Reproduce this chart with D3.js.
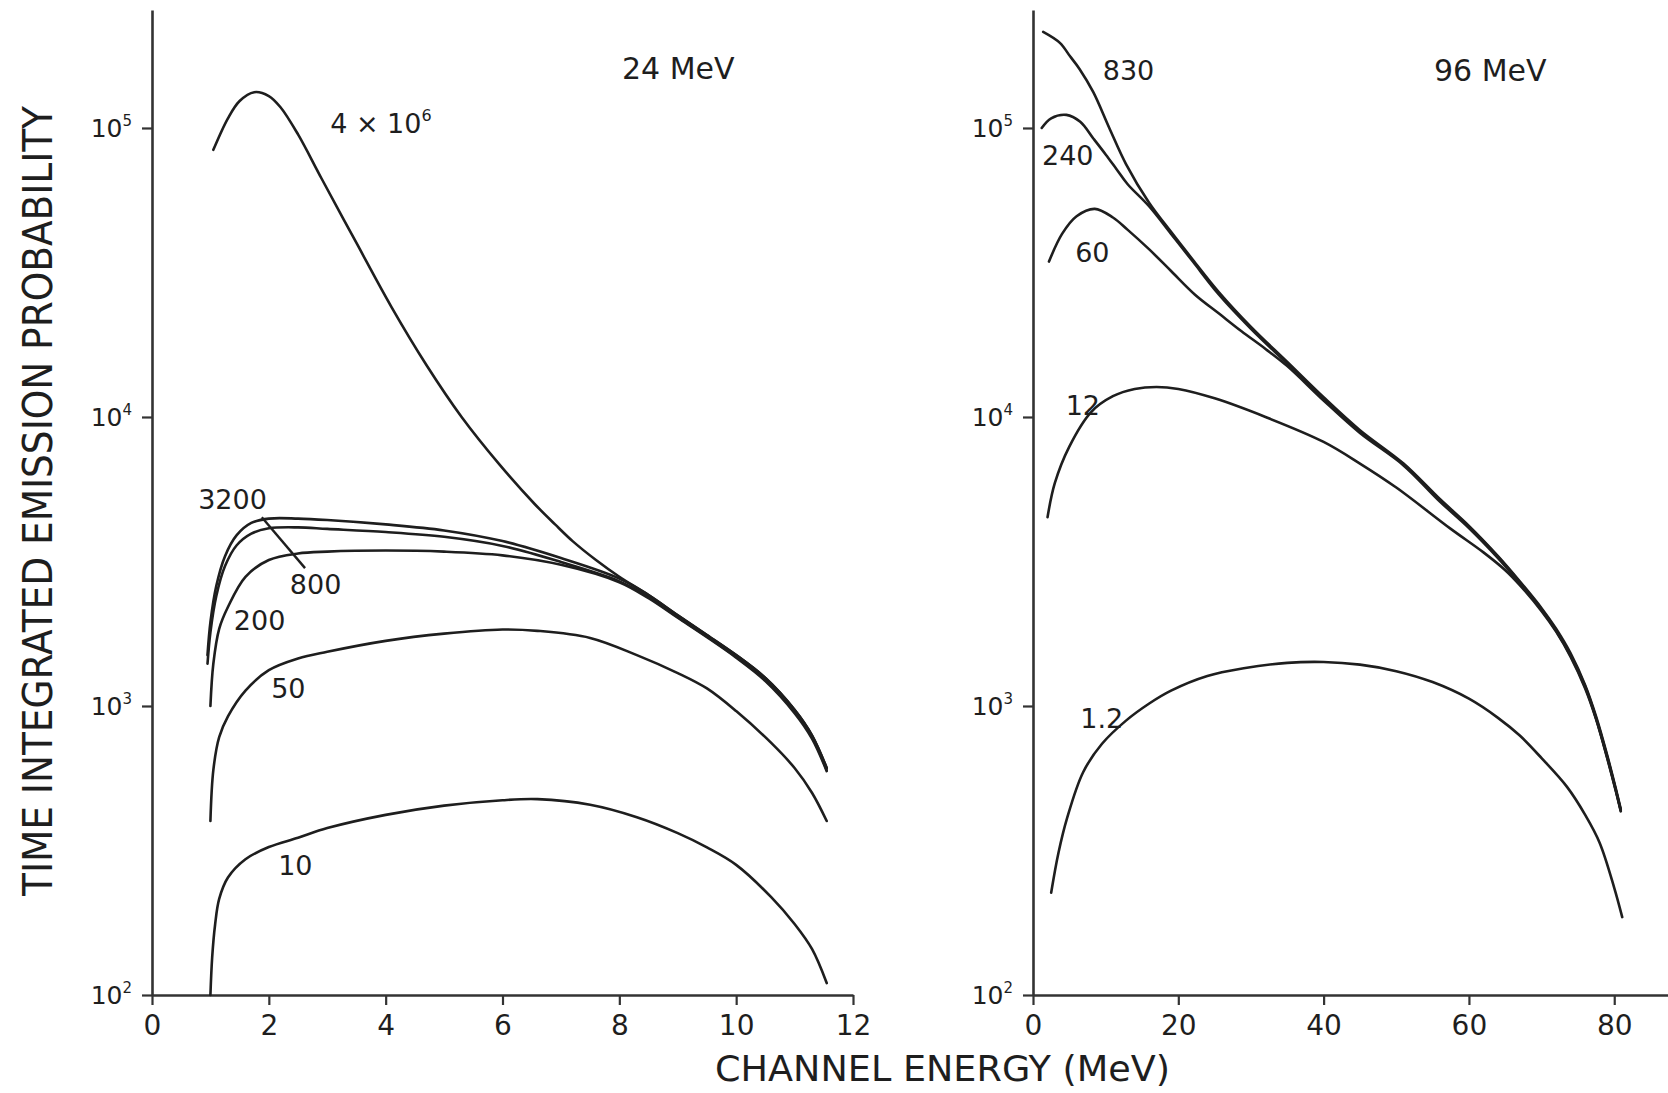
<!DOCTYPE html>
<html>
<head>
<meta charset="utf-8">
<script src="https://cdn.jsdelivr.net/npm/d3@7"></script>
<style>
  body { margin: 0; background: #fff; }
  svg { display: block; }
  text { font-family: "DejaVu Sans", "Liberation Sans", Arial, sans-serif; fill: #1e1e1e; }
</style>
</head>
<body>
<svg id="chart" width="1668" height="1093"></svg>
<script>
// ---- axis ticks ----
const ticks24 = [0, 2, 4, 6, 8, 10, 12];
const ticks96 = [0, 20, 40, 60, 80];
const probTicks = [1e2, 1e3, 1e4, 1e5];
const panelTitles = ["24 MeV", "96 MeV"];

// ---- 24 MeV panel: [channel energy (MeV), emission probability] ----
const s24_4e6 = [[1.05,8.4e4],[1.3,1.08e5],[1.5,1.24e5],[1.75,1.33e5],[2.0,1.29e5],[2.2,1.18e5],[2.5,9.5e4],[2.9,6.7e4],[3.5,4.0e4],[4.1,2.4e4],[4.7,1.51e4],[5.3,1.0e4],[5.95,6.84e3],[6.55,5.0e3],[6.9,4.25e3],[7.2,3.72e3],[7.6,3.2e3],[8.0,2.8e3],[8.5,2.42e3],[9.0,2.06e3],[9.5,1.76e3],[10.0,1.5e3],[10.5,1.25e3],[11.0,970],[11.3,790],[11.55,610]];
const s24_3200 = [[0.95,1.5e3],[1.0,1.95e3],[1.1,2.6e3],[1.25,3.3e3],[1.45,3.9e3],[1.7,4.3e3],[2.0,4.45e3],[2.5,4.45e3],[3,4.4e3],[4,4.25e3],[5,4.05e3],[6,3.72e3],[7,3.25e3],[8,2.76e3],[8.5,2.42e3],[9,2.06e3],[9.5,1.76e3],[10,1.5e3],[10.5,1.25e3],[11,970],[11.3,790],[11.55,610]];
const s24_800 = [[0.95,1.4e3],[1.0,1.8e3],[1.1,2.4e3],[1.25,3.05e3],[1.45,3.6e3],[1.7,3.95e3],[2.0,4.12e3],[2.5,4.15e3],[3,4.1e3],[4,4.0e3],[5,3.85e3],[6,3.58e3],[7,3.15e3],[8,2.7e3],[8.5,2.38e3],[9,2.03e3],[9.5,1.74e3],[10,1.48e3],[10.5,1.23e3],[11,955],[11.3,780],[11.55,600]];
const s24_200 = [[1.0,1.0e3],[1.05,1.4e3],[1.15,1.85e3],[1.3,2.2e3],[1.6,2.8e3],[2.0,3.2e3],[2.5,3.37e3],[3,3.42e3],[4,3.45e3],[5,3.42e3],[6,3.32e3],[7,3.08e3],[8,2.68e3],[8.5,2.36e3],[9,2.02e3],[9.5,1.73e3],[10,1.47e3],[10.5,1.22e3],[11,945],[11.3,770],[11.55,595]];
const s24_50 = [[1.0,400],[1.05,600],[1.15,780],[1.3,920],[1.6,1.13e3],[2.0,1.33e3],[2.5,1.46e3],[3,1.54e3],[4,1.68e3],[5,1.78e3],[6,1.84e3],[6.6,1.82e3],[7.5,1.72e3],[8.3,1.5e3],[9,1.3e3],[9.5,1.15e3],[10,960],[10.6,745],[11,610],[11.3,500],[11.55,400]];
const s24_10 = [[1.0,100],[1.03,135],[1.08,175],[1.15,215],[1.3,255],[1.6,295],[2.0,325],[2.5,350],[3,378],[4,420],[5,452],[6,472],[6.6,476],[7.5,455],[8.3,412],[9,363],[9.5,324],[10,282],[10.6,218],[11,176],[11.3,144],[11.55,110]];

// ---- 96 MeV panel ----
const s96_830 = [[1.4,2.15e5],[3.7,1.97e5],[5.1,1.77e5],[6.4,1.6e5],[8.3,1.33e5],[10.5,1.0e5],[12.8,7.5e4],[16,5.5e4],[19,4.37e4],[22,3.5e4],[25.6,2.7e4],[30,2.05e4],[35,1.55e4],[40,1.17e4],[45,9.0e3],[51,6.9e3],[56,5.2e3],[60,4.2e3],[64,3.3e3],[67,2.7e3],[70,2.18e3],[72,1.85e3],[74,1.52e3],[76,1.18e3],[77.5,920],[79,680],[80.2,520],[80.9,440]];
const s96_240 = [[1.2,1.0e5],[2.5,1.08e5],[4.6,1.11e5],[6.5,1.05e5],[8.3,9.2e4],[10,8.1e4],[11.5,7.2e4],[13,6.4e4],[16,5.35e4],[19,4.3e4],[22,3.45e4],[25.6,2.65e4],[30,2.02e4],[35,1.53e4],[40,1.16e4],[45,8.9e3],[51,6.85e3],[56,5.15e3],[60,4.17e3],[64,3.28e3],[67,2.68e3],[70,2.16e3],[72,1.83e3],[74,1.5e3],[76,1.17e3],[77.5,910],[79,673],[80.2,515],[80.9,436]];
const s96_60 = [[2.2,3.45e4],[4,4.3e4],[6,4.95e4],[8.5,5.25e4],[11,4.9e4],[13,4.45e4],[16,3.8e4],[19,3.2e4],[22.3,2.65e4],[25.6,2.28e4],[28.7,1.98e4],[32,1.72e4],[35,1.5e4],[40,1.14e4],[45,8.8e3],[51,6.8e3],[56,5.1e3],[60,4.13e3],[64,3.25e3],[67,2.66e3],[70,2.15e3],[72,1.82e3],[74,1.49e3],[76,1.16e3],[77.5,905],[79,668],[80.2,512],[80.9,434]];
const s96_12 = [[2.0,4.5e3],[3,5.9e3],[5,7.9e3],[8,1.04e4],[11,1.18e4],[14,1.25e4],[17,1.27e4],[20,1.25e4],[25,1.16e4],[32,1.0e4],[40,8.2e3],[45,6.9e3],[50,5.7e3],[57.5,4.1e3],[62,3.4e3],[65,2.95e3],[67,2.62e3],[70,2.13e3],[72,1.81e3],[74,1.48e3],[76,1.15e3],[77.5,900],[79,664],[80.2,510],[80.9,432]];
const s96_1p2 = [[2.5,226],[3.5,310],[4.7,410],[6.9,590],[9.5,740],[12.8,890],[16,1.02e3],[19,1.13e3],[24,1.27e3],[29,1.35e3],[35,1.41e3],[40,1.42e3],[45,1.39e3],[50,1.32e3],[55,1.21e3],[60,1.06e3],[64,910],[67,790],[70,660],[73.5,525],[76,420],[78,336],[80,235],[81.1,186]];

// curve labels: [text, superscript, energy, probability] (text starts at that point, on its baseline)
const labels24 = [["4 × 10", "6", 3.05, 9.6e4], ["3200", "", 0.79, 4.8e3], ["800", "", 2.36, 2.44e3],
                  ["200", "", 1.40, 1.83e3], ["50", "", 2.04, 1.07e3], ["10", "", 2.16, 260]];
const labels96 = [["830", "", 9.6, 1.47e5], ["240", "", 1.24, 7.45e4], ["60", "", 5.8, 3.44e4],
                  ["12", "", 4.5, 1.02e4], ["1.2", "", 6.5, 839]];
// leader from the 800 curve down to its label
const leader800 = [[1.88, 4.5e3], [2.62, 3.0e3]];

const svg = d3.select("#chart");
const ink = "#1e1e1e";

const y = d3.scaleLog().domain([100, 2.56e5]).range([995, 10]);
const x24 = d3.scaleLinear().domain([0, 12]).range([152, 853]);
const x96 = d3.scaleLinear().domain([0, 87.4]).range([1033, 1668]);

function drawPanel(x, xticks, series, labels, title, titleX, titleY) {
  const g = svg.append("g");

  // y axis with outward ticks
  const yAxis = g.append("g").attr("transform", `translate(${x(0)},0)`)
    .call(d3.axisLeft(y).tickValues(probTicks).tickSize(10).tickSizeOuter(0).tickFormat(""));
  yAxis.select(".domain").attr("stroke", "#333").attr("stroke-width", 2.6);
  yAxis.selectAll(".tick line").attr("stroke", "#333").attr("stroke-width", 2.2);

  // y tick labels as powers of ten
  probTicks.forEach(v => {
    const t = g.append("text").attr("x", x(0) - 20).attr("y", y(v) + 9)
      .attr("text-anchor", "end").attr("font-size", 25);
    t.append("tspan").text("10");
    t.append("tspan").attr("dy", -11).attr("font-size", 15).text(Math.round(Math.log10(v)));
  });

  // x axis with downward ticks
  const xAxis = g.append("g").attr("transform", `translate(0,${y(100)})`)
    .call(d3.axisBottom(x).tickValues(xticks).tickSize(10).tickSizeOuter(0).tickPadding(10));
  xAxis.select(".domain").attr("stroke", "#333").attr("stroke-width", 2.6);
  xAxis.selectAll(".tick line").attr("stroke", "#333").attr("stroke-width", 2.2);
  xAxis.selectAll(".tick text").attr("font-size", 28).attr("fill", ink)
    .style("font-family", '"DejaVu Sans", sans-serif');

  // curves
  const line = d3.line().x(d => x(d[0])).y(d => y(d[1])).curve(d3.curveCatmullRom.alpha(0.5));
  g.selectAll("path.curve").data(series).join("path")
    .attr("class", "curve").attr("d", line)
    .attr("fill", "none").attr("stroke", ink).attr("stroke-width", 2.6)
    .attr("stroke-linejoin", "round").attr("stroke-linecap", "round");

  // curve labels
  labels.forEach(([txt, sup, e, p]) => {
    const t = g.append("text").attr("x", x(e)).attr("y", y(p)).attr("font-size", 27);
    t.append("tspan").text(txt);
    if (sup) t.append("tspan").attr("dy", -12).attr("font-size", 16).text(sup);
  });

  // panel title
  g.append("text").attr("x", titleX).attr("y", titleY).attr("font-size", 30).text(title);
  return { g, x };
}

const left = drawPanel(x24, ticks24, [s24_4e6, s24_3200, s24_800, s24_200, s24_50, s24_10],
                       labels24, panelTitles[0], 622, 79);
left.g.append("path")
  .attr("d", d3.line().x(d => x24(d[0])).y(d => y(d[1]))(leader800))
  .attr("fill", "none").attr("stroke", ink).attr("stroke-width", 2.4);

drawPanel(x96, ticks96, [s96_830, s96_240, s96_60, s96_12, s96_1p2],
          labels96, panelTitles[1], 1434, 81);

// shared axis titles
svg.append("text").attr("x", 715).attr("y", 1081).attr("font-size", 36)
  .attr("textLength", 455).attr("lengthAdjust", "spacingAndGlyphs")
  .text("CHANNEL ENERGY (MeV)");

svg.append("text").attr("transform", "translate(52,896) rotate(-90)")
  .attr("font-size", 40).attr("textLength", 790).attr("lengthAdjust", "spacingAndGlyphs")
  .text("TIME INTEGRATED EMISSION PROBABILITY");
</script>
</body>
</html>
